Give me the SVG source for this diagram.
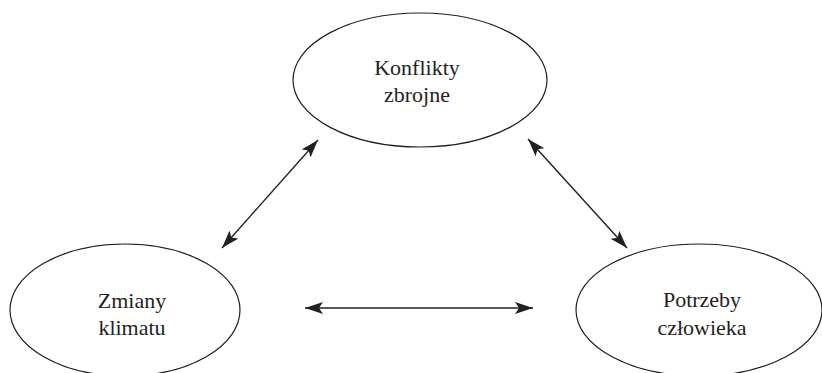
<svg xmlns="http://www.w3.org/2000/svg" width="822" height="373" viewBox="0 0 822 373">
<defs>
<style>
.node ellipse{fill:#fff;stroke:#231f20;stroke-width:1.2}
.node text{font-family:"Liberation Serif","Times New Roman",serif;font-size:22px;fill:#231f20;text-anchor:middle}
.conn line{stroke:#231f20;stroke-width:1.4;fill:none}
</style>
<marker id="ah" markerUnits="userSpaceOnUse" markerWidth="19" markerHeight="13" refX="18" refY="6" orient="auto-start-reverse" viewBox="0 0 19 12">
<path d="M0,0 L18,6 L0,12 L4,6 Z" fill="#231f20"/>
</marker>
</defs>
<rect width="822" height="373" fill="#fff"/>
<g id="n-konflikty" class="node">
<ellipse cx="420" cy="80" rx="127" ry="67"/>
<text x="417" y="75">Konflikty</text>
<text x="417" y="102">zbrojne</text>
</g>
<g id="n-zmiany" class="node">
<ellipse cx="125" cy="310" rx="115" ry="66"/>
<text x="132" y="308">Zmiany</text>
<text x="132" y="335">klimatu</text>
</g>
<g id="n-potrzeby" class="node">
<ellipse cx="699" cy="310" rx="123" ry="66"/>
<text x="702" y="307">Potrzeby</text>
<text x="702" y="335">człowieka</text>
</g>
<g id="connectors" class="conn">
<line x1="222" y1="248" x2="318" y2="140" marker-start="url(#ah)" marker-end="url(#ah)"/>
<line x1="528" y1="139" x2="627" y2="248" marker-start="url(#ah)" marker-end="url(#ah)"/>
<line x1="305" y1="308" x2="533" y2="308" marker-start="url(#ah)" marker-end="url(#ah)"/>
</g>
</svg>
